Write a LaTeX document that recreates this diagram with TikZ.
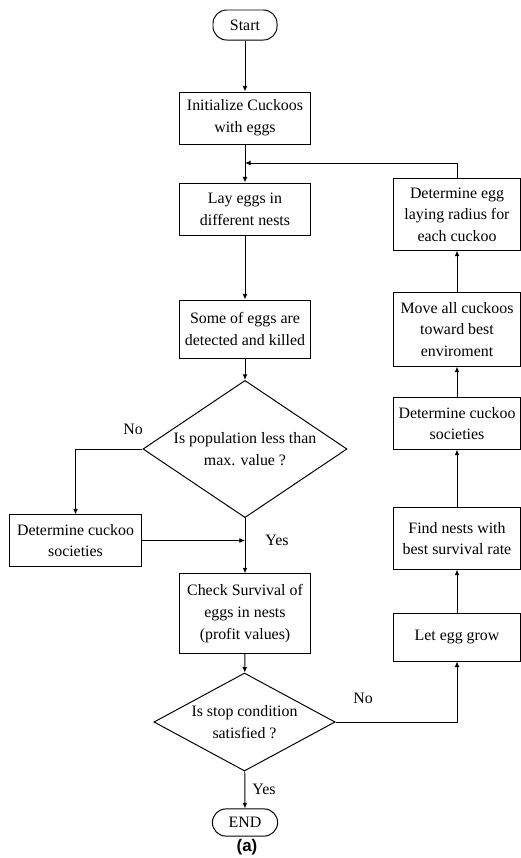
\documentclass[tikz,border=0pt]{standalone}
\usepackage{fontspec}
\setmainfont{Liberation Serif}
\newfontfamily\captionfont{Liberation Sans}
\usetikzlibrary{shapes.geometric,arrows.meta}
\tikzset{
  flowline/.style={line width=0.7pt, -{Latex[length=4pt,width=3.5pt]}},
  process/.style={draw, line width=0.7pt, align=center, inner sep=2pt, font=\fontsize{11.3}{15.4}\selectfont},
  decision/.style={draw, diamond, line width=0.7pt, align=center, inner sep=0pt, font=\fontsize{11.3}{15.4}\selectfont},
  terminal/.style={draw, line width=0.7pt, rounded corners=0.34cm, inner sep=1pt, font=\fontsize{11.3}{15.4}\selectfont},
  tag/.style={font=\fontsize{11.3}{15.4}\selectfont}
}

\begin{document}
\begin{tikzpicture}[x=0.025cm, y=-0.025cm]
  \useasboundingbox (0,0) rectangle (521,858);

  % Draw the main column
  \node[terminal, minimum width=1.6cm, minimum height=0.75cm] (start) at (245,25) {Start};
  \node[process, minimum width=3.25cm, minimum height=1.3cm] (init) at (245,118) {Initialize Cuckoos\\with eggs};
  \node[process, minimum width=3.25cm, minimum height=1.3cm] (lay) at (245,209) {Lay eggs in\\different nests};
  \node[process, minimum width=3.25cm, minimum height=1.45cm] (detect) at (245,329) {Some of eggs are\\detected and killed};
  \node[decision, aspect=1.49, minimum width=5.1cm, minimum height=3.43cm] (popcheck) at (245,449) {Is population less than\\max. value ?};
  \node[process, minimum width=3.28cm, minimum height=1.28cm] (societyl) at (75.5,540.5) {Determine cuckoo\\societies};
  \node[process, minimum width=3.25cm, minimum height=1.98cm] (survival) at (245,613.5) {Check Survival of\\eggs in nests\\(profit values)};
  \node[decision, aspect=1.85, minimum width=4.53cm, minimum height=2.45cm] (stopcheck) at (244.5,722) {Is stop condition\\satisfied ?};
  \node[terminal, minimum width=1.63cm, minimum height=0.68cm] (finish) at (245,822.5) {END};

  % Draw the right column
  \node[process, minimum width=3.15cm, minimum height=1.78cm] (radius) at (457,214.5) {Determine egg\\laying radius for\\each cuckoo};
  \node[process, minimum width=3.15cm, minimum height=1.83cm] (move) at (457,329.5) {Move all cuckoos\\toward best\\enviroment};
  \node[process, minimum width=3.15cm, minimum height=1.28cm] (societyr) at (457,423.5) {Determine cuckoo\\societies};
  \node[process, minimum width=3.15cm, minimum height=1.53cm] (findnest) at (457,538.5) {Find nests with\\best survival rate};
  \node[process, minimum width=3.15cm, minimum height=1.2cm] (grow) at (457,637) {Let egg grow};

  \coordinate (loopin) at (245,163);
  \coordinate (merge) at (245,540.5);

  % Draw the connectors
  \draw[flowline] (start) -- (init);
  \draw[flowline] (init) -- (lay);
  \draw[flowline] (lay) -- (detect);
  \draw[flowline] (detect) -- (popcheck);
  \draw[flowline] (popcheck.west) -| (societyl.north);
  \draw[flowline] (popcheck.south) -- (survival.north);
  \draw[flowline] (societyl.east) -- (merge);
  \draw[flowline] (survival) -- (stopcheck);
  \draw[flowline] (stopcheck) -- (finish);
  \draw[flowline] (stopcheck.east) -| (grow.south);
  \draw[flowline] (grow) -- (findnest);
  \draw[flowline] (findnest) -- (societyr);
  \draw[flowline] (societyr) -- (move);
  \draw[flowline] (move) -- (radius);
  \draw[flowline] (radius.north) |- (loopin);

  % Label the branches
  \node[tag] (popno) at (133,429) {No};
  \node[tag] (popyes) at (277,540) {Yes};
  \node[tag] (stopno) at (363,698) {No};
  \node[tag] (stopyes) at (264,789) {Yes};
  \node[font=\captionfont\bfseries\fontsize{12}{14}\selectfont] (caption) at (247,847) {(a)};
\end{tikzpicture}
\end{document}
